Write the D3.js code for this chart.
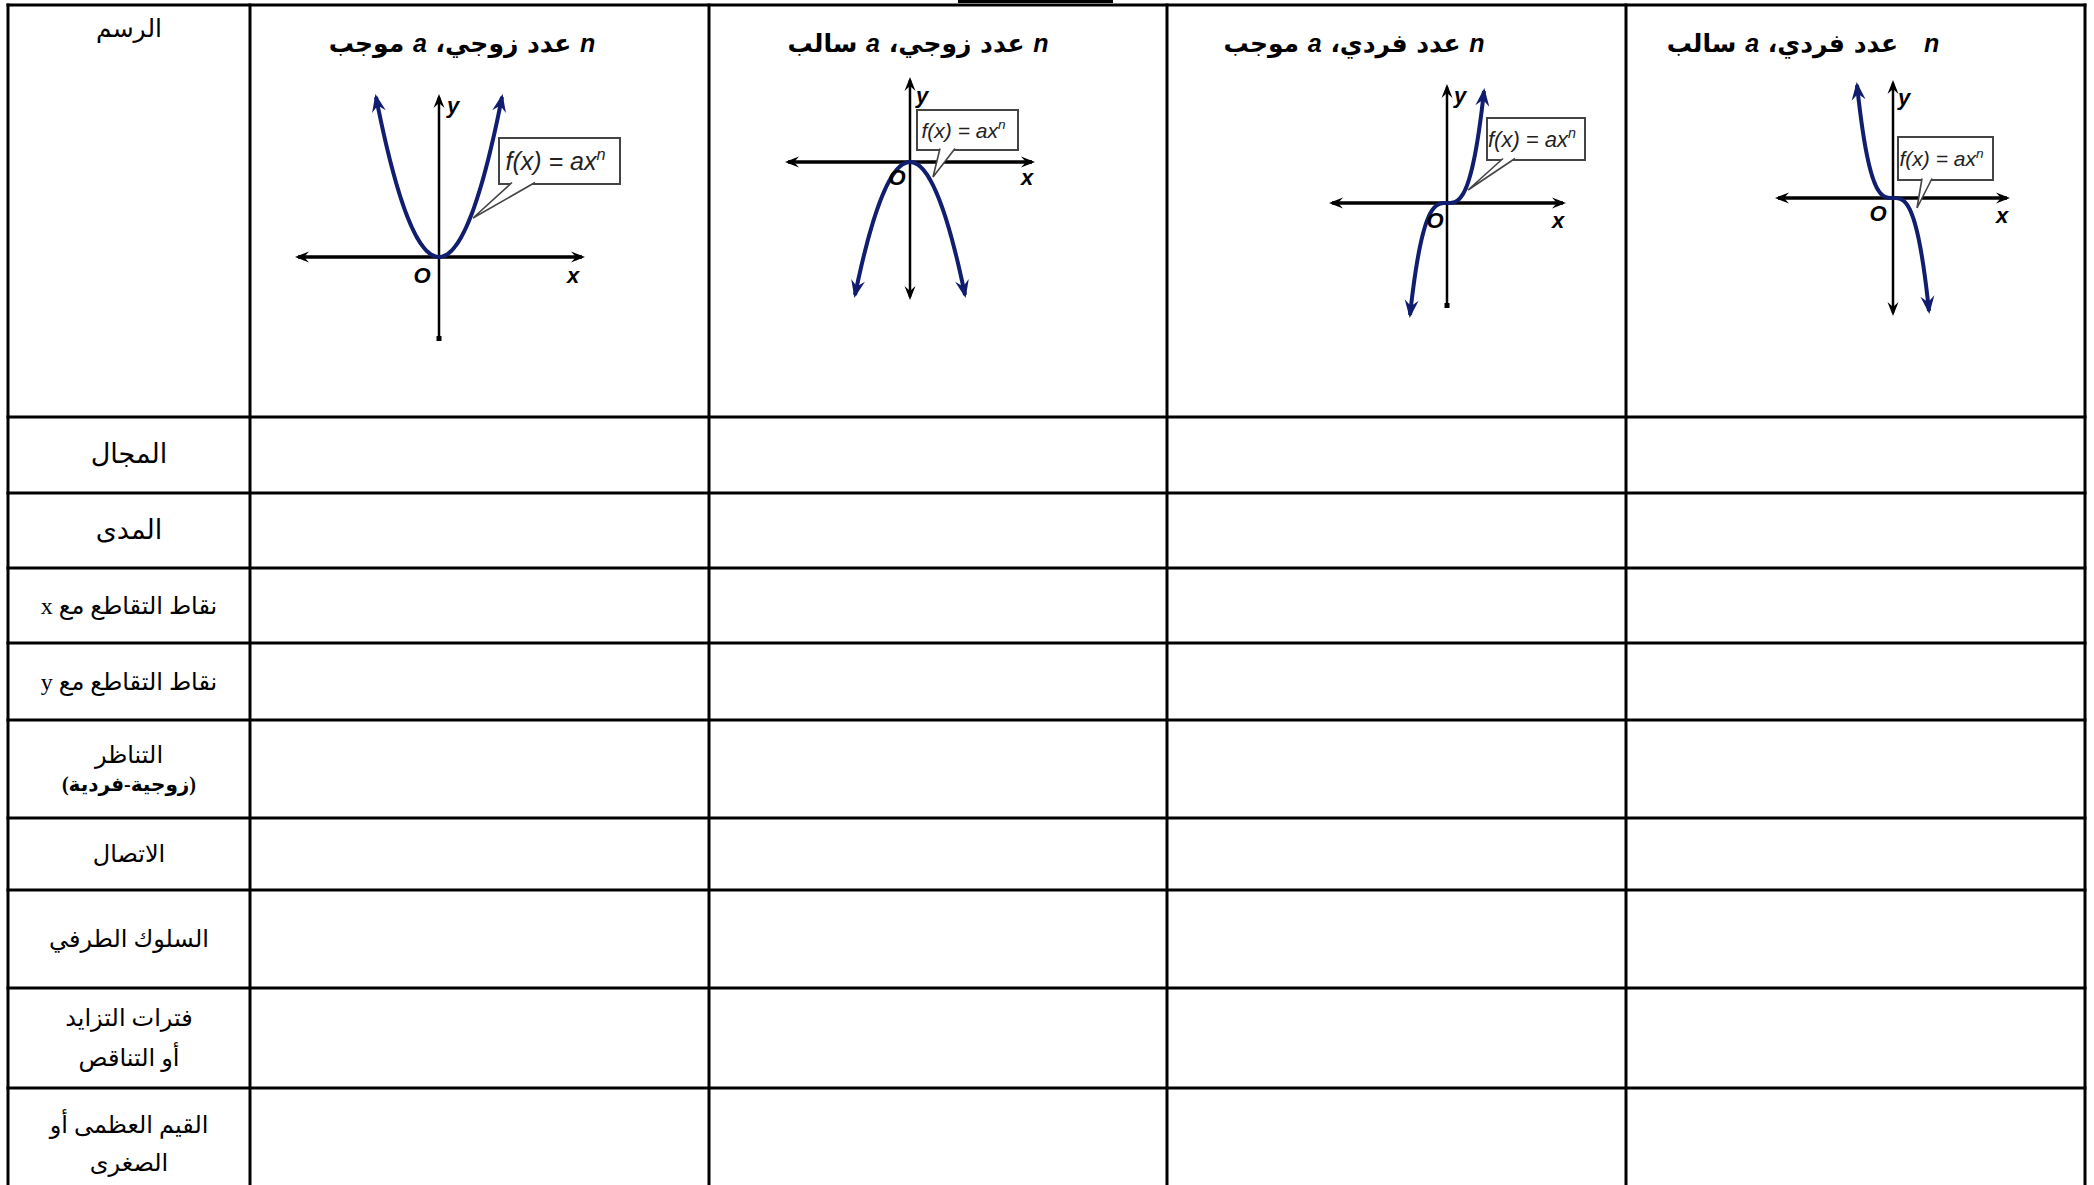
<!DOCTYPE html>
<html>
<head>
<meta charset="utf-8">
<script src="https://cdn.jsdelivr.net/npm/d3@7"></script>
<style>
  body { margin: 0; background: #fff; }
</style>
</head>
<body>
<div id="chart"></div>
<script>
// =============================================
// data
const rowLabels = [
  ['المجال'],
  ['المدى'],
  ['نقاط التقاطع مع x'],
  ['نقاط التقاطع مع y'],
  ['التناظر', '(زوجية-فردية)'],
  ['الاتصال'],
  ['السلوك الطرفي'],
  ['فترات التزايد', 'أو التناقص'],
  ['القيم العظمى أو', 'الصغرى']
];
const headLabel = 'الرسم';

// one title per graph, split in parts : [text, isLatin]
const caseTitles = [
  [['n', true], [' عدد زوجي، ', false], ['a', true], [' موجب', false]],
  [['n', true], [' عدد زوجي، ', false], ['a', true], [' سالب', false]],
  [['n', true], [' عدد فردي، ', false], ['a', true], [' موجب', false]],
  [['n', true], ['   عدد فردي، ', false], ['a', true], [' سالب', false]]
];
const nValues = [2, 2, 3, 3];     // exponent n
const aSigns  = [1, -1, 1, -1];   // sign of a
const formula = ['f(x) = ax', 'n'];

// =============================================
// layout
const W = 2094, H = 1185;
const colX = [8, 250, 709, 1167, 1626, 2085];
const rowY = [5, 417, 493, 568, 643, 720, 818, 890, 988, 1088, 1200];
const labelSize = [27, 27, 24, 24, 24, 24, 24, 24, 24];
const lineGap   = [0, 0, 0, 0, 28, 0, 0, 40, 38];

// per graph : origin, px per unit, axis extents, labels, callout
const panels = [
  { ox: 439, oy: 257, kx: 63, ky: 160, ax: [-141, 143], ay: [-160, 81], yEnd: 'dot',
    title: 462, lx: [134, 18], ly: [14, -152], lo: [-17, 18],
    box: [60, -119, 121, 46], fs: 25, ptr: [[73, -73], [96, -73], [34, -39]] },
  { ox: 910, oy: 162, kx: 55, ky: 133, ax: [-122, 122], ay: [-82, 135], yEnd: 'arrow',
    title: 918, lx: [117, 15], ly: [12, -67], lo: [-13, 15],
    box: [7, -52, 101, 40], fs: 21, ptr: [[30, -12], [45, -12], [23, 15]] },
  { ox: 1447, oy: 203, kx: 37, ky: 112, ax: [-115, 116], ay: [-116, 102], yEnd: 'dot',
    title: 1354, lx: [111, 17], ly: [13, -108], lo: [-12, 17],
    box: [40, -85, 98, 42], fs: 22, ptr: [[56, -43], [68, -43], [21, -13]] },
  { ox: 1893, oy: 198, kx: 36, ky: 113, ax: [-115, 114], ay: [-115, 115], yEnd: 'arrow',
    title: 1803, lx: [109, 17], ly: [11, -101], lo: [-15, 15],
    box: [5, -61, 95, 43], fs: 21, ptr: [[29, -18], [39, -18], [24, 10]] }
];

const curveColor = '#111d6e';
const arabicFont = '"DejaVu Sans", sans-serif';

let svg = d3.select('#chart')
            .append('svg')
            .attr('width', W)
            .attr('height', H)
            .style('display', 'block');

// arrow heads
const defs = svg.append('defs');
function addArrow(id, color, len, half) {
  defs.append('marker')
      .attr('id', id)
      .attr('viewBox', `${-len - 1} ${-half - 1} ${len + 5} ${2 * half + 2}`)
      .attr('refX', -3)
      .attr('refY', 0)
      .attr('markerUnits', 'userSpaceOnUse')
      .attr('markerWidth', len + 5)
      .attr('markerHeight', 2 * half + 2)
      .attr('orient', 'auto-start-reverse')
    .append('path')
      .attr('d', `M0,0 L${-len},${-half} L${-len * 0.65},0 L${-len},${half} Z`)
      .attr('fill', color);
}
addArrow('arrowBlue', curveColor, 18, 7);
addArrow('arrowBlack', '#000', 14, 5.5);

// =============================================
// table grid
svg.append('rect')
   .attr('x', 958).attr('y', 0)
   .attr('width', 155).attr('height', 3)
   .attr('fill', '#000');

svg.selectAll('line.hrow')
   .data(rowY.slice(0, -1))
   .enter()
   .append('line')
   .attr('class', 'hrow')
   .attr('x1', colX[0] - 1.5).attr('x2', colX[colX.length - 1] + 1.5)
   .attr('y1', d => d).attr('y2', d => d)
   .attr('stroke', '#000').attr('stroke-width', 3);

svg.selectAll('line.vcol')
   .data(colX)
   .enter()
   .append('line')
   .attr('class', 'vcol')
   .attr('x1', d => d).attr('x2', d => d)
   .attr('y1', rowY[0] - 1.5).attr('y2', rowY[rowY.length - 1])
   .attr('stroke', '#000').attr('stroke-width', 3);

// =============================================
// row labels
const cx0 = (colX[0] + colX[1]) / 2;

svg.append('text')
   .attr('x', cx0).attr('y', 37)
   .attr('text-anchor', 'middle')
   .attr('direction', 'rtl')
   .style('font-family', arabicFont)
   .style('font-size', '25px')
   .text(headLabel);

rowLabels.forEach(function (lines, i) {
  const mid = (rowY[i + 1] + rowY[i + 2]) / 2;
  lines.forEach(function (t, j) {
    const second = j > 0 && i === 4;
    svg.append('text')
       .attr('x', cx0)
       .attr('y', mid + 8 + (j - (lines.length - 1) / 2) * lineGap[i])
       .attr('text-anchor', 'middle')
       .attr('direction', 'rtl')
       .style('font-family', '"Liberation Serif", ' + arabicFont)
       .style('font-size', (second ? 20 : labelSize[i]) + 'px')
       .style('font-weight', second ? 'bold' : 'normal')
       .text(t);
  });
});

// =============================================
// graphs
panels.forEach(function (p, i) {
  const g = svg.append('g');
  const n = nValues[i], a = aSigns[i];

  // title
  const title = g.append('text')
     .attr('x', p.title).attr('y', 52)
     .attr('text-anchor', 'middle')
     .attr('direction', 'rtl')
     .style('font-weight', 'bold')
     .style('font-size', '25px');
  caseTitles[i].forEach(function (part) {
    title.append('tspan')
         .style('font-family', part[1] ? '"Liberation Sans", sans-serif' : arabicFont)
         .style('font-style', part[1] ? 'italic' : 'normal')
         .style('white-space', 'pre')
         .text(part[0]);
  });

  // axes
  g.append('line')
   .attr('x1', p.ox + p.ax[0]).attr('x2', p.ox + p.ax[1])
   .attr('y1', p.oy).attr('y2', p.oy)
   .attr('stroke', '#000').attr('stroke-width', 3.5)
   .attr('marker-start', 'url(#arrowBlack)')
   .attr('marker-end', 'url(#arrowBlack)');

  const yAxis = g.append('line')
   .attr('x1', p.ox).attr('x2', p.ox)
   .attr('y1', p.oy + p.ay[1]).attr('y2', p.oy + p.ay[0])
   .attr('stroke', '#000').attr('stroke-width', 2.5)
   .attr('marker-end', 'url(#arrowBlack)');
  if (p.yEnd === 'arrow') {
    yAxis.attr('marker-start', 'url(#arrowBlack)');
  } else {
    g.append('rect')
     .attr('x', p.ox - 2.5).attr('y', p.oy + p.ay[1] - 2)
     .attr('width', 5).attr('height', 5)
     .attr('fill', '#000');
  }

  // curve f(x) = a x^n
  const xs = d3.scaleLinear().domain([-1, 1]).range([p.ox - p.kx, p.ox + p.kx]);
  const ys = d3.scaleLinear().domain([-1, 1]).range([p.oy + p.ky, p.oy - p.ky]);
  const pts = d3.range(-1, 1.0001, 0.02).map(x => [x, a * Math.pow(x, n)]);
  g.append('path')
   .datum(pts)
   .attr('d', d3.line().x(d => xs(d[0])).y(d => ys(d[1])).curve(d3.curveBasis))
   .attr('fill', 'none')
   .attr('stroke', curveColor)
   .attr('stroke-width', 4)
   .attr('marker-start', 'url(#arrowBlue)')
   .attr('marker-end', 'url(#arrowBlue)');

  // axis letters
  const letter = (txt, off, size) => g.append('text')
     .attr('x', p.ox + off[0]).attr('y', p.oy + off[1] + size * 0.35)
     .attr('text-anchor', 'middle')
     .style('font-family', '"Liberation Sans", sans-serif')
     .style('font-style', 'italic')
     .style('font-weight', 'bold')
     .style('font-size', size + 'px')
     .text(txt);
  letter('x', p.lx, 22);
  letter('y', p.ly, 22);
  letter('O', p.lo, 22);

  // callout box
  const bx = p.ox + p.box[0], by = p.oy + p.box[1];
  g.append('rect')
   .attr('x', bx).attr('y', by)
   .attr('width', p.box[2]).attr('height', p.box[3])
   .attr('fill', '#fff')
   .attr('stroke', '#444').attr('stroke-width', 2);
  const b1 = p.ptr[0], b2 = p.ptr[1], tip = p.ptr[2];
  g.append('path')
   .attr('d', `M${p.ox + b1[0]},${p.oy + b1[1] - 1.5} L${p.ox + tip[0]},${p.oy + tip[1]} L${p.ox + b2[0]},${p.oy + b2[1] - 1.5}`)
   .attr('fill', '#fff')
   .attr('stroke', '#444').attr('stroke-width', 1.6);

  const ft = g.append('text')
     .attr('x', bx + p.box[2] / 2 - 4).attr('y', by + p.box[3] / 2 + p.fs * 0.36)
     .attr('text-anchor', 'middle')
     .style('font-family', '"Liberation Sans", sans-serif')
     .style('font-style', 'italic')
     .style('font-size', p.fs + 'px')
     .style('fill', '#222');
  ft.append('tspan').text(formula[0]);
  ft.append('tspan')
    .attr('dy', -p.fs * 0.4)
    .style('font-size', (p.fs * 0.65) + 'px')
    .text(formula[1]);
});
</script>
</body>
</html>
